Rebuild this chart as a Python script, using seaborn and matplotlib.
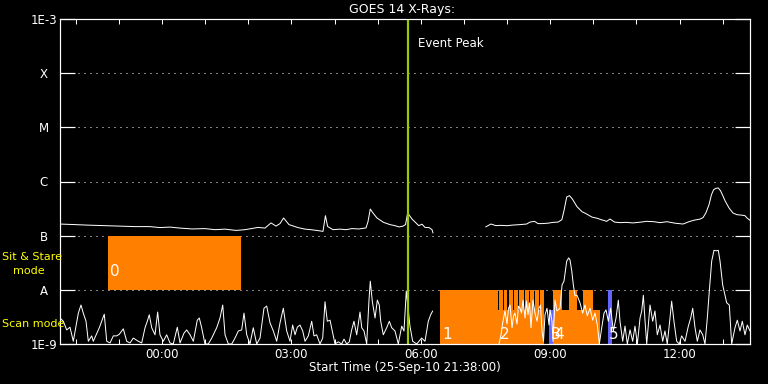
import matplotlib
matplotlib.use("Agg")
import matplotlib.pyplot as plt
from matplotlib.ticker import FixedLocator, NullLocator
import numpy as np
import pandas as pd
import seaborn as sns

# ---------------- data ----------------
TITLE = "GOES 14 X-Rays:"
XLABEL = "Start Time (25-Sep-10 21:38:00)"
X_RANGE_MIN = [0, 960]                      # minutes since 21:38:00
LABEL_TICKS_MIN = [142, 322, 502, 682, 862]
LABEL_TICKS_TXT = ["00:00", "03:00", "06:00", "09:00", "12:00"]
HOUR_TICKS_MIN = [22, 82, 142, 202, 262, 322, 382, 442, 502, 562, 622, 682, 742, 802, 862, 922]
Y_TICKS = [1e-9, 1e-8, 1e-7, 1e-6, 1e-5, 1e-4, 1e-3]
Y_TICK_LABELS = ["1E-9", "A", "B", "C", "M", "X", "1E-3"]
GRID_LEVELS = [1e-8, 1e-7, 1e-6, 1e-5, 1e-4]
EVENT_PEAK_MIN = 484

# GOES flux (in units of 1e-7 W/m^2, i.e. B-class), two segments around a data gap
upper_t_1 = [0, 20.9, 41.7, 62.6, 83.5, 104.3, 125.2, 139.1, 153.0, 167.0,
             183.7, 201.7, 215.7, 229.6, 244.9, 257.4, 275.5, 285.2, 293.6, 300.5,
             306.1, 311.1, 318.6, 331.1, 340.9, 349.2, 359.0, 365.9, 369.3, 372.3,
             379.8, 389.6, 397.9, 406.3, 416.0, 425.7, 428.5, 431.7, 435.5, 441.0,
             450.1, 459.1, 466.1, 471.7, 477.2, 480.7, 483.7, 489.7, 499.1, 503.7,
             507.8, 513.4, 517.6, 519.0]
upper_b_1 = [1.64, 1.60, 1.56, 1.53, 1.50, 1.47, 1.47, 1.41, 1.44, 1.38,
             1.33, 1.35, 1.29, 1.32, 1.25, 1.29, 1.42, 1.38, 1.72, 1.50,
             1.67, 2.12, 1.60, 1.41, 1.32, 1.29, 1.24, 1.20, 2.34, 1.48,
             1.29, 1.32, 1.29, 1.35, 1.33, 1.39, 1.81, 3.10, 2.62, 2.12,
             1.76, 1.60, 1.53, 1.45, 1.50, 1.60, 2.62, 2.03, 1.53, 1.63,
             1.42, 1.41, 1.29, 1.12]
upper_t_2 = [592.2, 599.6, 606.6, 612.2, 621.9, 630.3, 640.0, 649.2, 653.9, 660.2,
             665.0, 670.6, 679.0, 685.9, 692.9, 698.2, 701.2, 705.0, 708.9, 713.0,
             719.3, 726.3, 731.8, 740.2, 747.1, 753.2, 760.6, 765.2, 771.6, 779.1,
             787.5, 797.2, 808.4, 816.3, 826.4, 834.8, 844.5, 855.7, 866.8, 875.1,
             882.1, 890.4, 894.6, 898.8, 903.0, 906.4, 909.4, 912.7, 915.9, 918.9,
             921.6, 925.2, 930.8, 936.3, 941.9, 948.8, 953.0, 955.8, 960.0]
upper_b_2 = [1.45, 1.64, 1.53, 1.55, 1.53, 1.57, 1.60, 1.64, 1.78, 1.84,
             1.67, 1.67, 1.70, 1.76, 1.78, 1.97, 2.89, 5.18, 5.47, 4.72,
             3.43, 2.77, 2.55, 2.20, 2.10, 1.97, 1.84, 2.03, 1.78, 1.74,
             1.76, 1.72, 1.78, 1.84, 1.81, 1.74, 1.81, 1.70, 1.64, 1.81,
             1.93, 2.02, 2.15, 2.66, 3.74, 5.71, 7.06, 7.50, 7.60, 6.77,
             5.71, 4.43, 3.25, 2.62, 2.44, 2.39, 2.34, 2.12, 1.92]

# lower trace: (minutes, log10 value)
lower_1 = [(0.0, -8.52), (4.6, -8.58), (9.3, -8.74), (13.9, -8.69), (18.5, -8.95),
           (25.5, -8.43), (29.2, -8.28), (32.4, -8.43), (36.2, -8.58), (39.4, -8.95),
           (44.1, -8.85), (46.3, -8.95), (54.7, -8.70), (58.0, -8.58), (61.6, -8.45),
           (65.0, -8.95), (69.6, -8.98), (74.2, -8.85), (78.9, -8.85), (82.5, -8.82),
           (88.1, -8.72), (92.8, -8.95), (97.4, -8.98), (102.0, -8.89), (108.9, -8.95),
           (113.7, -8.98), (118.3, -8.70), (121.5, -8.58), (124.2, -8.46), (127.6, -8.70),
           (132.2, -8.83), (135.9, -8.41), (139.1, -8.83), (143.7, -8.95), (148.4, -8.83),
           (153.0, -8.98), (157.6, -9.00), (163.2, -8.69), (167.0, -8.98), (172.5, -8.80),
           (176.3, -8.74), (180.9, -8.83), (185.5, -8.95), (191.0, -8.56), (193.8, -8.52),
           (197.1, -8.70), (201.7, -9.00), (206.3, -9.00), (211.1, -8.89), (218.0, -8.70),
           (222.6, -8.52), (226.4, -8.28), (229.6, -8.83), (234.2, -9.00), (238.9, -9.00),
           (243.5, -8.89), (248.1, -8.76), (252.8, -8.74), (256.0, -8.43), (259.8, -8.83),
           (264.3, -9.00), (268.9, -8.70), (273.7, -9.00), (278.3, -8.89), (283.8, -8.34),
           (287.6, -8.30), (292.2, -8.61), (296.8, -8.76), (301.5, -8.95), (306.1, -8.61),
           (310.7, -8.34), (315.4, -8.76), (320.0, -8.95), (323.7, -8.65), (327.0, -8.83),
           (330.2, -8.69), (333.9, -8.65), (337.7, -8.76), (340.9, -8.95), (345.5, -8.85),
           (350.2, -8.58), (353.4, -8.85), (357.1, -8.83), (361.7, -9.00), (365.5, -8.89),
           (368.7, -8.22), (371.9, -8.58), (375.7, -8.56), (378.8, -8.76), (382.6, -9.00),
           (387.2, -8.96), (391.9, -9.00), (395.1, -8.91), (398.9, -9.00), (402.5, -8.96),
           (405.8, -8.74), (409.0, -8.58), (412.8, -8.83), (417.4, -8.41), (419.8, -8.70),
           (423.0, -8.76), (426.7, -9.00), (429.9, -8.19), (431.7, -7.84), (434.5, -8.21),
           (438.3, -8.52), (441.5, -8.19), (444.2, -8.28), (446.2, -8.58), (449.8, -8.83),
           (454.5, -8.70), (458.2, -8.58), (461.5, -8.70), (466.1, -8.76), (470.7, -9.00),
           (475.4, -8.67), (478.6, -8.76), (481.8, -8.02), (486.9, -8.67), (490.7, -8.95),
           (496.3, -9.00), (503.2, -8.89), (507.8, -8.95), (510.2, -8.76), (512.4, -8.58),
           (515.7, -8.46), (518.5, -8.39)]
lower_2 = [(610.8, -9.00), (613.6, -8.83), (616.3, -8.58), (619.1, -8.39), (621.9, -8.63),
           (624.0, -8.34), (626.1, -8.28), (628.9, -8.70), (631.0, -8.48), (633.0, -8.43),
           (635.8, -8.63), (637.9, -8.30), (640.0, -8.34), (642.1, -8.43), (644.2, -8.19),
           (647.0, -8.52), (649.0, -8.21), (651.1, -8.46), (653.2, -8.24), (655.3, -8.70),
           (658.1, -8.19), (660.9, -8.43), (663.7, -8.58), (666.4, -8.34), (668.5, -8.28),
           (670.6, -8.76), (672.7, -8.95), (674.8, -8.46), (677.6, -8.34), (680.4, -8.65),
           (681.8, -8.37), (684.5, -8.58), (685.9, -8.95), (688.7, -8.19), (691.5, -8.39),
           (695.7, -8.34), (698.5, -7.91), (701.2, -7.84), (705.0, -7.47), (707.8, -7.41),
           (709.6, -7.45), (712.0, -7.65), (714.2, -7.91), (716.5, -8.11), (719.3, -8.10),
           (723.5, -8.24), (727.2, -8.43), (730.4, -8.28), (733.6, -8.48), (737.4, -8.34),
           (741.1, -8.56), (744.3, -8.43), (747.6, -8.65), (750.4, -9.00), (753.7, -8.70),
           (756.9, -8.43), (759.7, -8.37), (762.9, -8.58), (766.2, -8.34), (769.8, -8.76),
           (773.6, -8.52), (776.8, -8.19), (779.1, -8.58), (782.9, -8.95), (786.1, -8.67),
           (789.3, -9.00), (793.1, -8.74), (796.8, -8.95), (800.0, -8.67), (803.3, -9.00),
           (807.0, -8.52), (809.4, -8.39), (811.6, -8.10), (814.0, -8.58), (816.3, -9.00),
           (820.9, -8.28), (824.6, -8.58), (827.8, -8.39), (831.0, -8.83), (834.8, -8.65),
           (838.5, -8.95), (841.7, -8.76), (844.9, -9.00), (848.7, -8.52), (851.0, -8.21),
           (854.2, -8.58), (858.0, -8.95), (861.6, -9.00), (864.9, -8.85), (869.6, -8.95),
           (874.2, -8.67), (877.5, -8.52), (880.3, -8.34), (883.5, -8.70), (886.7, -8.95),
           (890.4, -8.74), (894.2, -8.83), (897.4, -9.00), (900.6, -8.52), (903.4, -8.02),
           (906.7, -7.47), (909.9, -7.27), (913.6, -7.28), (915.9, -7.27), (918.3, -7.47),
           (922.0, -7.91), (927.6, -8.24), (931.2, -8.28), (934.5, -9.00), (939.1, -8.70),
           (942.3, -8.56), (946.1, -8.76), (949.3, -8.58), (953.0, -8.83), (956.2, -8.65),
           (960.0, -8.76)]

# observations: (start_min, end_min, bottom, top, kind)
obs_blocks = [
    (67, 252, 1e-8, 1e-7, "sit"),
    (529, 609, 1e-9, 1e-8, "scan"),
    (609, 673, 1e-9, 4.25e-9, "scan"),
    (611.2, 615.9, 1e-9, 1e-8, "scan"), (617.3, 622.3, 1e-9, 1e-8, "scan"),
    (624.3, 629.8, 1e-9, 1e-8, "scan"), (631.2, 637.6, 1e-9, 1e-8, "scan"),
    (639.0, 645.6, 1e-9, 1e-8, "scan"), (647.0, 653.0, 1e-9, 1e-8, "scan"),
    (654.3, 659.9, 1e-9, 1e-8, "scan"), (661.3, 666.8, 1e-9, 1e-8, "scan"),
    (668.2, 673.4, 1e-9, 1e-8, "scan"),
    (686, 751, 1e-9, 4.25e-9, "scan"),
    (686, 698, 1e-9, 1e-8, "scan"), (708, 719, 1e-9, 1e-8, "scan"),
    (728, 742, 1e-9, 1e-8, "scan"),
    (681, 686, 1e-9, 4.25e-9, "blue"),
    (762, 768, 1e-9, 1e-8, "blue"),
]
obs_labels = [("0", 67, 2.2e-8), ("1", 529, 1.47e-9), ("2", 609, 1.47e-9),
              ("3", 681, 1.47e-9), ("4", 686, 1.47e-9), ("5", 762, 1.47e-9)]

# ---------------- style ----------------
sns.set_theme(style="dark")
plt.rcParams.update({
    "figure.facecolor": "black", "axes.facecolor": "black",
    "savefig.facecolor": "black", "text.color": "white",
    "axes.edgecolor": "white", "xtick.color": "white", "ytick.color": "white",
    "axes.labelcolor": "white",
})
plt.rcParams["font.family"] = ["DejaVu Sans"]

ORANGE = "#ff8000"
BLUE = "#6464ff"
GREEN = "#99cc00"
YELLOW = "#ffff00"
PX = 0.72  # one pixel in points at 100 dpi

fig = plt.figure(figsize=(7.68, 3.84), dpi=100)
ax = fig.add_axes([60 / 768, 1 - 344 / 384, 690 / 768, 325 / 384])
ax.set_facecolor("black")
ax.set_yscale("log")

# grid (dotted)
for g in GRID_LEVELS:
    ax.axhline(g, color="white", lw=PX, ls=(0, (1, 5)), zorder=1)

# observation blocks
colors = {"sit": ORANGE, "scan": ORANGE, "blue": BLUE}
for (s, e, b, t, k) in obs_blocks:
    ax.bar(s, t - b, width=e - s, bottom=b, align="edge", color=colors[k],
           linewidth=0, zorder=2)

# curves
up = pd.DataFrame({
    "t": upper_t_1 + upper_t_2,
    "flux": [v * 1e-7 for v in upper_b_1 + upper_b_2],
    "seg": [0] * len(upper_t_1) + [1] * len(upper_t_2),
})
lo = pd.DataFrame({
    "t": [p[0] for p in lower_1 + lower_2],
    "flux": [10 ** p[1] for p in lower_1 + lower_2],
    "seg": [0] * len(lower_1) + [1] * len(lower_2),
})
sns.lineplot(data=up, x="t", y="flux", units="seg", estimator=None, color="white",
             lw=1.0 * PX, ax=ax, zorder=3, legend=False)
sns.lineplot(data=lo, x="t", y="flux", units="seg", estimator=None, color="white",
             lw=1.0 * PX, ax=ax, zorder=3, legend=False)

# event peak
ax.axvline(EVENT_PEAK_MIN, color=GREEN, lw=2.2 * PX, zorder=4)
ax.text(EVENT_PEAK_MIN + 14, 3.6e-4, "Event Peak", color="white", fontsize=8.5,
        ha="left", va="center", zorder=5)

for txt, s, yv in obs_labels:
    ax.annotate(txt, (s, yv), xytext=(1.2, 0), textcoords="offset points",
                ha="left", va="center", color="white", fontsize=11, zorder=5)

# axes
ax.set_xlim(*X_RANGE_MIN)
ax.set_ylim(1e-9, 1e-3)
ax.set_xlabel("")
ax.set_ylabel("")
ax.grid(False)
for sp in ax.spines.values():
    sp.set_color("white")
    sp.set_linewidth(1.2 * PX)
    sp.set_zorder(6)

ax.yaxis.set_major_locator(FixedLocator(Y_TICKS))
ax.yaxis.set_minor_locator(NullLocator())
ax.set_yticklabels(Y_TICK_LABELS)
ax.tick_params(axis="y", which="major", direction="in", length=15 * PX,
               width=1.2 * PX, left=True, right=True, pad=16 * PX,
               labelsize=8.5, colors="white")
for lbl in ax.get_yticklabels():
    lbl.set_horizontalalignment("center")

ax.xaxis.set_major_locator(FixedLocator(LABEL_TICKS_MIN))
ax.xaxis.set_minor_locator(FixedLocator(HOUR_TICKS_MIN))
ax.set_xticklabels(LABEL_TICKS_TXT)
ax.tick_params(axis="x", which="both", direction="in", length=5 * PX,
               width=1.0 * PX, top=True, bottom=True, pad=4.5 * PX,
               labelsize=8.5, colors="white")

# texts
fig.text(402 / 768, 1 - 9.5 / 384, TITLE, ha="center", va="center",
         color="white", fontsize=9)
fig.text(405 / 768, 1 - 368 / 384, XLABEL, ha="center", va="center",
         color="white", fontsize=8.5)
fig.text(2 / 768, 1 - 257.5 / 384, "Sit & Stare", ha="left", va="center",
         color=YELLOW, fontsize=8)
fig.text(13 / 768, 1 - 271 / 384, "mode", ha="left", va="center",
         color=YELLOW, fontsize=8)
fig.text(2 / 768, 1 - 324 / 384, "Scan mode", ha="left", va="center",
         color=YELLOW, fontsize=8)

fig.savefig("out.png", dpi=100, facecolor="black")
